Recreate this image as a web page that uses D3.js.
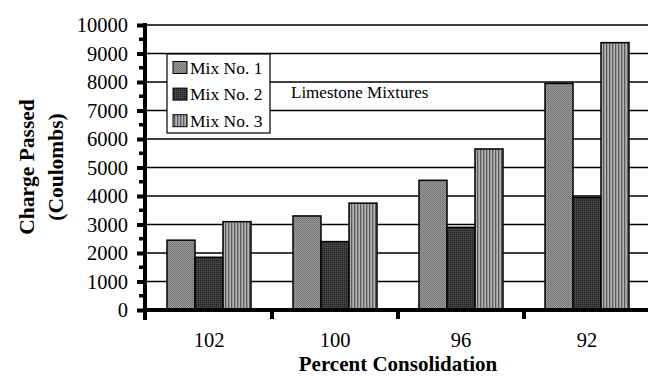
<!DOCTYPE html>
<html><head><meta charset="utf-8">
<script src="https://cdn.jsdelivr.net/npm/d3@7/dist/d3.min.js"></script>
<style>body{margin:0;background:#fff}svg{display:block}</style>
</head><body>
<svg id="c" width="648" height="377"></svg>
<script>
const categories = ["102", "100", "96", "92"];
const seriesNames = ["Mix No. 1", "Mix No. 2", "Mix No. 3"];
const mix1 = [2450, 3300, 4550, 7950];
const mix2 = [1850, 2400, 2900, 3950];
const mix3 = [3100, 3750, 5650, 9380];
const yTicks = [0,1000,2000,3000,4000,5000,6000,7000,8000,9000,10000];
const annotation = "Limestone Mixtures";
const series = [mix1, mix2, mix3];

const svg = d3.select("#c");
const font = "'Liberation Serif','Times New Roman',serif";
const pL = 146, pR = 650, pT = 25, pB = 310;

const defs = svg.append("defs");
const p1 = defs.append("pattern").attr("id","p1").attr("width",2).attr("height",2).attr("patternUnits","userSpaceOnUse");
p1.append("rect").attr("width",2).attr("height",2).attr("fill","#9a9a9a");
p1.append("rect").attr("width",1).attr("height",1).attr("fill","#6e6e6e");
p1.append("rect").attr("x",1).attr("y",1).attr("width",1).attr("height",1).attr("fill","#7c7c7c");
const p2 = defs.append("pattern").attr("id","p2").attr("width",2).attr("height",2).attr("patternUnits","userSpaceOnUse");
p2.append("rect").attr("width",2).attr("height",2).attr("fill","#3a3a3a");
p2.append("rect").attr("width",1).attr("height",1).attr("fill","#222");
p2.append("rect").attr("x",1).attr("y",1).attr("width",1).attr("height",1).attr("fill","#4a4a4a");
const p3 = defs.append("pattern").attr("id","p3").attr("width",3).attr("height",3).attr("patternUnits","userSpaceOnUse");
p3.append("rect").attr("width",3).attr("height",3).attr("fill","#b4b4b4");
p3.append("rect").attr("width",1.3).attr("height",3).attr("fill","#5a5a5a");
const fills = ["url(#p1)","url(#p2)","url(#p3)"];

const x = d3.scaleBand().domain(categories).range([pL, pR]).paddingInner(0).paddingOuter(0);
const xs = d3.scaleBand().domain(d3.range(3)).range([0, x.bandwidth()]).paddingOuter(0.75).paddingInner(0);
const y = d3.scaleLinear().domain([0, 10000]).range([pB, pT]);

svg.append("g").selectAll("line").data(yTicks.filter(d => d > 0)).join("line")
  .attr("x1", pL).attr("x2", 648).attr("y1", d => y(d)).attr("y2", d => y(d))
  .attr("stroke", "#000").attr("stroke-width", 1.6);

const g = svg.append("g");
categories.forEach((c, ci) => {
  series.forEach((s, si) => {
    g.append("rect")
      .attr("x", x(c) + xs(si)).attr("width", xs.bandwidth())
      .attr("y", y(s[ci])).attr("height", y(0) - y(s[ci]))
      .attr("fill", fills[si]).attr("stroke", "#000").attr("stroke-width", 1.5);
  });
});

const lg = svg.append("g");
lg.append("rect").attr("x", 167).attr("y", 54).attr("width", 103).attr("height", 79)
  .attr("fill", "#fff").attr("stroke", "#000").attr("stroke-width", 1.2);
seriesNames.forEach((n, i) => {
  const by = 73.5 + i * 26.6;
  lg.append("rect").attr("x", 173).attr("y", by - 12).attr("width", 14).attr("height", 12)
    .attr("fill", fills[i]).attr("stroke", "#000").attr("stroke-width", 1);
  lg.append("text").attr("x", 190).attr("y", by).text(n)
    .attr("font-family", font).attr("font-size", 17.5).attr("fill", "#000");
});

svg.append("text").attr("x", 291).attr("y", 98).text(annotation)
  .attr("font-family", font).attr("font-size", 17).attr("fill", "#000");

const yAxis = d3.axisLeft(y).tickValues(yTicks).tickSize(9).tickFormat(d3.format("d"));
const ya = svg.append("g").attr("transform", `translate(${pL},0)`).call(yAxis);
ya.select(".domain").remove();
ya.selectAll(".tick line").attr("stroke", "#000").attr("stroke-width", 4);
ya.selectAll(".tick text").attr("font-family", font).attr("font-size", 20.5).attr("fill", "#000")
  .attr("x", -18).attr("dy", "0.34em");
const minor = d3.range(500, 10000, 1000);
svg.append("g").selectAll("line").data(minor).join("line")
  .attr("x1", pL - 7).attr("x2", pL).attr("y1", d => y(d)).attr("y2", d => y(d))
  .attr("stroke", "#000").attr("stroke-width", 3.5);
svg.append("line").attr("x1", pL - 1).attr("x2", pL - 1).attr("y1", pT - 2).attr("y2", 320)
  .attr("stroke", "#000").attr("stroke-width", 4);

const xAxis = d3.axisBottom(x).tickSize(0);
const xa = svg.append("g").attr("transform", `translate(0,${pB})`).call(xAxis);
xa.select(".domain").remove();
xa.selectAll(".tick text").attr("font-family", font).attr("font-size", 20.5).attr("fill", "#000").attr("y", 22);
svg.append("line").attr("x1", pL - 3).attr("x2", 648).attr("y1", pB).attr("y2", pB)
  .attr("stroke", "#000").attr("stroke-width", 4);
svg.append("g").selectAll("line").data(categories.slice(1)).join("line")
  .attr("x1", d => x(d)).attr("x2", d => x(d)).attr("y1", pB).attr("y2", pB + 9)
  .attr("stroke", "#000").attr("stroke-width", 4);

svg.append("text").attr("transform", "translate(34,167) rotate(-90)").attr("text-anchor", "middle")
  .attr("font-family", font).attr("font-weight", "bold").attr("font-size", 21.5).text("Charge Passed");
svg.append("text").attr("transform", "translate(63,167) rotate(-90)").attr("text-anchor", "middle")
  .attr("font-family", font).attr("font-weight", "bold").attr("font-size", 21.5).text("(Coulombs)");
svg.append("text").attr("x", 398).attr("y", 371).attr("text-anchor", "middle")
  .attr("font-family", font).attr("font-weight", "bold").attr("font-size", 21).text("Percent Consolidation");
</script>
</body></html>
